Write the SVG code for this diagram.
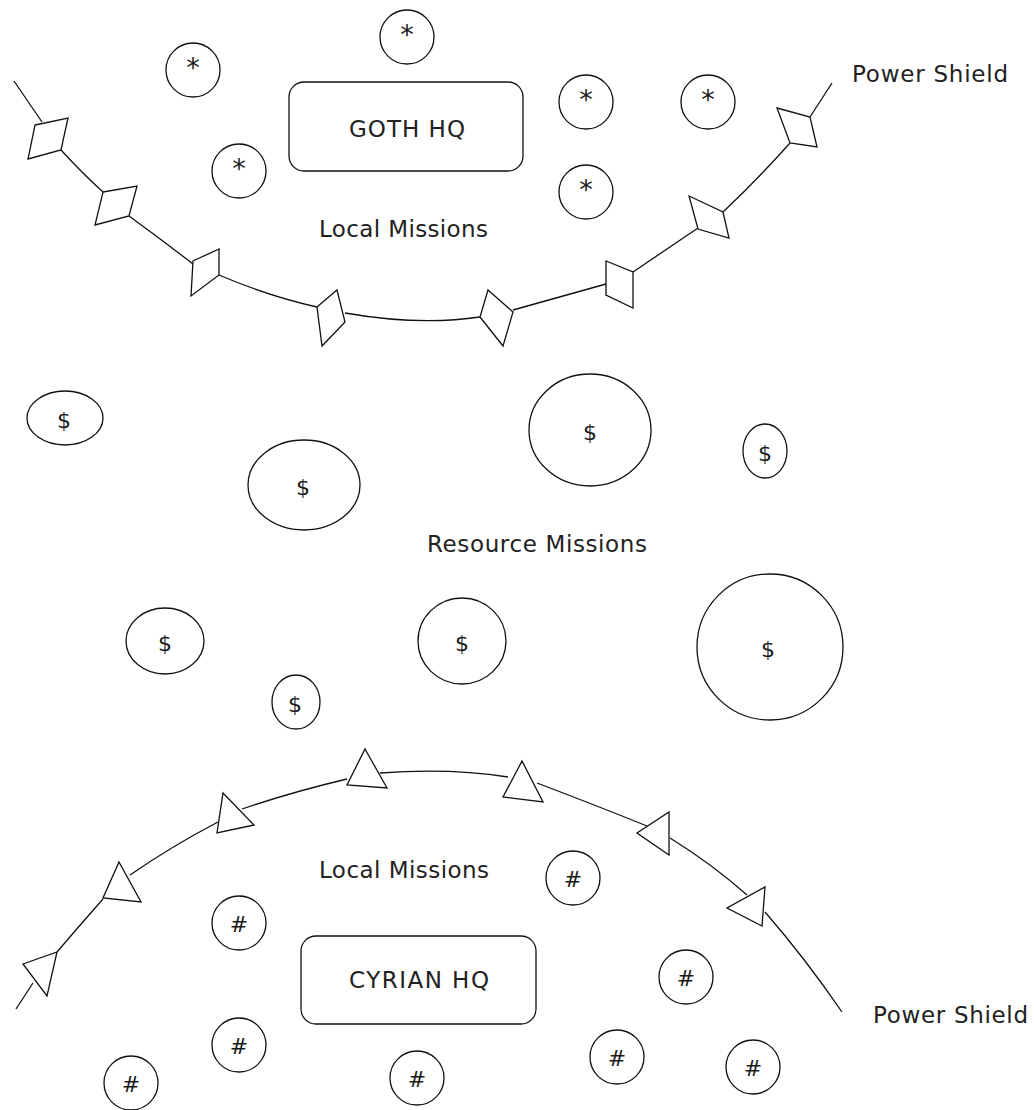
<svg xmlns="http://www.w3.org/2000/svg" width="1034" height="1110" viewBox="0 0 1034 1110">
<style>
  .ln{fill:none;stroke:#111;stroke-width:1.3}
  .sh{fill:#fff;stroke:#111;stroke-width:1.3;stroke-linejoin:miter}
  .nd{fill:#fff;stroke:#111;stroke-width:1.3}
  .t{font-family:"DejaVu Sans","Liberation Sans",sans-serif;font-size:23px;fill:#222}
  .s{font-family:"DejaVu Sans","Liberation Sans",sans-serif;font-size:22px;fill:#1a1a1a;text-anchor:middle}
  .a{font-family:"DejaVu Sans","Liberation Sans",sans-serif;font-size:27px;fill:#1a1a1a;text-anchor:middle}
</style>
<rect width="1034" height="1110" fill="#fff"/>

<g id="connectors">
  <g id="goth-shield">
    <path class="ln" d="M14,81 L42,122 M61,150 Q82,173 103,192 M129,216 Q162,240 193,264 M219,275 Q268,296 317,307 M345,313 Q420,326 480,317 M513,310 L606,284 M633,272 L698,228 M723,212 Q757,180 790,143 M810,117 L832,83"/>
    <polygon class="sh" points="35,125 68,118 61,150 28,159"/>
    <polygon class="sh" points="103,192 137,186 129,216 95,225"/>
    <polygon class="sh" points="193,261 219,249 219,275 191,296"/>
    <polygon class="sh" points="317,307 337,290 345,322 322,346"/>
    <polygon class="sh" points="488,290 513,312 503,346 480,317"/>
    <polygon class="sh" points="606,261 633,272 633,308 606,295"/>
    <polygon class="sh" points="689,196 723,212 729,238 698,229"/>
    <polygon class="sh" points="777,108 810,117 817,147 790,143"/>
  </g>
  <g id="cyrian-shield">
    <path class="ln" d="M16,1009 L33,983 M57,952 Q80,925 103,899 M130,875 Q172,846 218,822 M242,809 Q292,792 347,779 M380,773 Q450,768 508,777 M537,783 Q595,805 647,826 M670,838 Q712,864 747,895 M765,912 Q805,958 842,1012"/>
    <polygon class="sh" points="23,964 57,952 47,996"/>
    <polygon class="sh" points="119,862 141,902 103,898"/>
    <polygon class="sh" points="223,793 254,825 217,833"/>
    <polygon class="sh" points="365,749 387,788 347,785"/>
    <polygon class="sh" points="522,761 543,802 503,797"/>
    <polygon class="sh" points="669,812 669,855 637,833"/>
    <polygon class="sh" points="765,887 762,926 727,908"/>
  </g>
</g>

<g id="label-power-shield-top"><text class="t" x="852" y="82" textLength="156">Power Shield</text></g>
<g id="label-power-shield-bottom"><text class="t" x="873" y="1023" textLength="155">Power Shield</text></g>
<g id="label-local-top"><text class="t" x="319" y="237" textLength="169">Local Missions</text></g>
<g id="label-resource"><text class="t" x="427" y="552" textLength="220">Resource Missions</text></g>
<g id="label-local-bottom"><text class="t" x="319" y="878" textLength="170">Local Missions</text></g>

<g id="goth-hq">
  <rect class="nd" x="289" y="82" width="234" height="89" rx="15"/>
  <text class="t" x="349" y="137" textLength="116">GOTH HQ</text>
</g>
<g id="cyrian-hq">
  <rect class="nd" x="301" y="936" width="235" height="88" rx="15"/>
  <text class="t" x="349" y="988" textLength="140">CYRIAN HQ</text>
</g>

<g id="local-goth-1"><circle class="nd" cx="193" cy="70" r="27"/><text class="a" x="193" y="77">*</text></g>
<g id="local-goth-2"><circle class="nd" cx="407" cy="37" r="27"/><text class="a" x="407" y="44">*</text></g>
<g id="local-goth-3"><circle class="nd" cx="239" cy="171" r="27"/><text class="a" x="239" y="178">*</text></g>
<g id="local-goth-4"><circle class="nd" cx="586" cy="102" r="27"/><text class="a" x="586" y="109">*</text></g>
<g id="local-goth-5"><circle class="nd" cx="586" cy="192" r="27"/><text class="a" x="586" y="199">*</text></g>
<g id="local-goth-6"><circle class="nd" cx="708" cy="102" r="27"/><text class="a" x="708" y="109">*</text></g>

<g id="resource-1"><ellipse class="nd" cx="65" cy="418" rx="38" ry="27"/><text class="s" x="64" y="428">$</text></g>
<g id="resource-2"><ellipse class="nd" cx="304" cy="485" rx="56" ry="45"/><text class="s" x="303" y="495">$</text></g>
<g id="resource-3"><ellipse class="nd" cx="590" cy="430" rx="61" ry="56"/><text class="s" x="590" y="440">$</text></g>
<g id="resource-4"><ellipse class="nd" cx="765" cy="451" rx="22" ry="27"/><text class="s" x="765" y="461">$</text></g>
<g id="resource-5"><ellipse class="nd" cx="165" cy="641" rx="39" ry="33"/><text class="s" x="165" y="651">$</text></g>
<g id="resource-6"><ellipse class="nd" cx="462" cy="641" rx="44" ry="43"/><text class="s" x="462" y="651">$</text></g>
<g id="resource-7"><ellipse class="nd" cx="770" cy="647" rx="73" ry="73"/><text class="s" x="768" y="657">$</text></g>
<g id="resource-8"><ellipse class="nd" cx="296" cy="702" rx="24" ry="27"/><text class="s" x="295" y="712">$</text></g>

<g id="local-cyrian-1"><circle class="nd" cx="573" cy="878" r="27"/><text class="s" x="573" y="887">#</text></g>
<g id="local-cyrian-2"><circle class="nd" cx="239" cy="923" r="27"/><text class="s" x="239" y="932">#</text></g>
<g id="local-cyrian-3"><circle class="nd" cx="686" cy="977" r="27"/><text class="s" x="686" y="986">#</text></g>
<g id="local-cyrian-4"><circle class="nd" cx="239" cy="1045" r="27"/><text class="s" x="239" y="1054">#</text></g>
<g id="local-cyrian-5"><circle class="nd" cx="617" cy="1057" r="27"/><text class="s" x="617" y="1066">#</text></g>
<g id="local-cyrian-6"><circle class="nd" cx="753" cy="1067" r="27"/><text class="s" x="753" y="1076">#</text></g>
<g id="local-cyrian-7"><circle class="nd" cx="131" cy="1083" r="27"/><text class="s" x="131" y="1092">#</text></g>
<g id="local-cyrian-8"><circle class="nd" cx="417" cy="1078" r="27"/><text class="s" x="417" y="1087">#</text></g>
</svg>
